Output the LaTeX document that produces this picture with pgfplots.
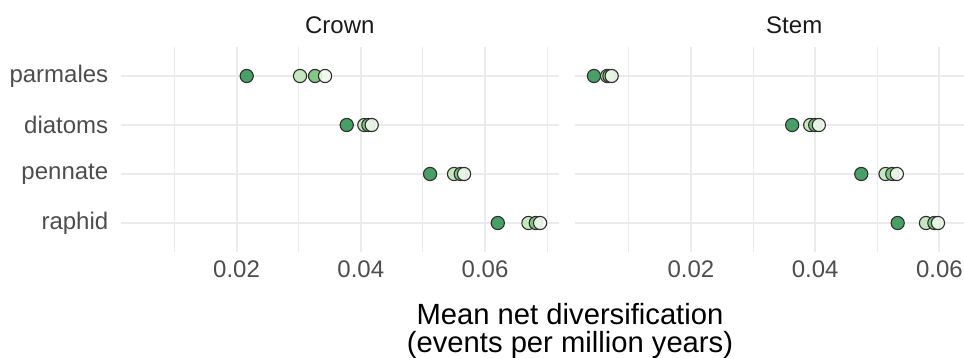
\documentclass[border=0pt]{standalone}
\usepackage{pgfplots}
\pgfplotsset{compat=1.18}
\usepackage{pgfplotstable}
\usepackage{fontspec}
\setmainfont{Liberation Sans}

\definecolor{gridgrey}{HTML}{EBEBEB}
\definecolor{ticktext}{HTML}{4D4D4D}
\definecolor{striptext}{HTML}{1A1A1A}
\definecolor{gDark}{HTML}{3A985A}
\definecolor{gPale}{HTML}{C2E5BC}
\definecolor{gMid}{HTML}{78C37A}
\definecolor{gLight}{HTML}{EEF8EC}
\definecolor{ptedge}{HTML}{2E2E2E}

% Mean net diversification rates; y: 0 parmales, 1 diatoms, 2 pennate, 3 raphid
\pgfplotstableread{
y dark pale mid light
0 0.02164 0.03022 0.03264 0.03425
1 0.03774 0.04057 0.04122 0.04176
2 0.05115 0.05501 0.05609 0.05662
3 0.06205 0.06698 0.06816 0.06886
}\crowntab
\pgfplotstableread{
y dark pale mid light
0 0.00438 0.00649 0.00686 0.00723
1 0.03629 0.03919 0.04000 0.04058
2 0.04741 0.05132 0.05240 0.05314
3 0.05327 0.05783 0.05918 0.05976
}\stemtab

\pgfplotsset{
  panel/.style={
    scale only axis,
    height=102.9pt,
    xmin=0.00133,
    ymin=-0.6, ymax=3.6,
    y dir=reverse,
    axis line style={draw=none},
    major tick length=0pt, minor tick length=0pt,
    tick style={draw=none},
    scaled x ticks=false,
    xtick={0.02,0.04,0.06},
    xticklabels={0.02,0.04,0.06},
    minor xtick={0.01,0.03,0.05,0.07},
    ytick={0,1,2,3},
    xmajorgrids, xminorgrids, ymajorgrids,
    major grid style={gridgrey, line width=1pt},
    minor grid style={gridgrey, line width=0.5pt},
    tick label style={font=\fontsize{12}{14}\selectfont, text=ticktext},
    xticklabel style={anchor=north, yshift=-0.8pt},
    yticklabel style={anchor=east, xshift=-2.6pt},
    clip=false,
  },
  pt/.style={only marks, mark=*, mark size=3.3pt,
    mark options={draw=ptedge, line width=0.55pt, fill=#1, fill opacity=0.92}},
}

\begin{document}
\begin{tikzpicture}
\useasboundingbox (0,0) rectangle (482pt,179pt);

\begin{axis}[panel, width=219.25pt, xmax=0.0719,
  at={(60.25pt,52.8pt)}, anchor=south west,
  yticklabels={parmales,diatoms,pennate,raphid}]
  \addplot[pt=gDark]  table[x=dark,  y=y] {\crowntab};
  \addplot[pt=gPale]  table[x=pale,  y=y] {\crowntab};
  \addplot[pt=gMid]   table[x=mid,   y=y] {\crowntab};
  \addplot[pt=gLight] table[x=light, y=y] {\crowntab};
  \node[font=\fontsize{12}{14}\selectfont, text=striptext]
    at (axis cs:0.03662,-0.6) [yshift=10.8pt] {Crown};
\end{axis}

\begin{axis}[panel, width=194.5pt, xmax=0.06395,
  at={(287.5pt,52.8pt)}, anchor=south west,
  yticklabels={}]
  \addplot[pt=gDark]  table[x=dark,  y=y] {\stemtab};
  \addplot[pt=gPale]  table[x=pale,  y=y] {\stemtab};
  \addplot[pt=gMid]   table[x=mid,   y=y] {\stemtab};
  \addplot[pt=gLight] table[x=light, y=y] {\stemtab};
  \node[font=\fontsize{12}{14}\selectfont, text=striptext]
    at (axis cs:0.03662,-0.6) [yshift=10.8pt] {Stem};
\end{axis}

\node[align=center, font=\fontsize{14.6}{14}\selectfont, text=black]
  at (285pt,13.6pt) {Mean net diversification\\(events per million years)};
\end{tikzpicture}
\end{document}
